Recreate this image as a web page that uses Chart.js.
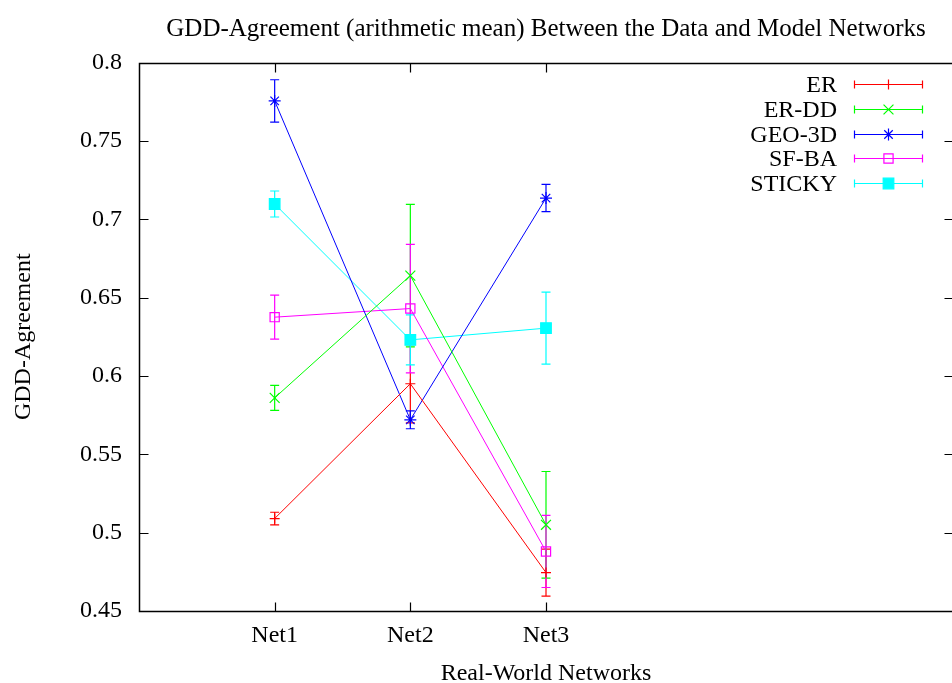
<!DOCTYPE html>
<html>
<head>
<meta charset="utf-8">
<script src="https://cdn.jsdelivr.net/npm/chart.js@4.4.0/dist/chart.umd.min.js"></script>
<style>
  html, body { margin: 0; padding: 0; background: #ffffff; overflow: hidden; }
  canvas { display: block; }
</style>
</head>
<body>
<canvas id="c" width="952" height="683"></canvas>
<script>
// ---- data ----
const categories = ['Net1', 'Net2', 'Net3'];
const categoryPositions = [1, 2, 3];
const yTickValues = [0.45, 0.5, 0.55, 0.6, 0.65, 0.7, 0.75, 0.8];

const seriesNames = ['ER', 'ER-DD', 'GEO-3D', 'SF-BA', 'STICKY'];
const erValues     = [0.509, 0.595, 0.4745];
const erErrors     = [0.004, 0.025, 0.015];
const erddValues   = [0.586, 0.664, 0.505];
const erddErrors   = [0.008, 0.0455, 0.034];
const geoValues    = [0.7755, 0.572, 0.7135];
const geoErrors    = [0.0135, 0.0057, 0.0087];
const sfbaValues   = [0.6375, 0.643, 0.488];
const sfbaErrors   = [0.014, 0.041, 0.023];
const stickyValues = [0.7097, 0.623, 0.6305];
const stickyErrors = [0.0083, 0.016, 0.023];

const seriesColors = ['#ff0000', '#00ff00', '#0000ff', '#ff00ff', '#00ffff'];

const FONT = 'Liberation Serif';

function makeDataset(name, values, errors, color, style, radius, fill) {
  return {
    label: name,
    data: categoryPositions.map((x, i) => ({ x: x, y: values[i] })),
    errors: errors,
    borderColor: color,
    backgroundColor: fill ? color : 'rgba(0,0,0,0)',
    borderWidth: 1,
    pointStyle: style,
    pointRadius: radius,
    pointBorderWidth: 1.2,
    pointBackgroundColor: fill ? color : 'rgba(0,0,0,0)',
    pointBorderColor: color,
    tension: 0,
    fill: false
  };
}

const datasets = [
  makeDataset(seriesNames[0], erValues, erErrors, seriesColors[0], 'cross', 5, false),
  makeDataset(seriesNames[1], erddValues, erddErrors, seriesColors[1], 'crossRot', 7, false),
  makeDataset(seriesNames[2], geoValues, geoErrors, seriesColors[2], 'star', 6, false),
  makeDataset(seriesNames[3], sfbaValues, sfbaErrors, seriesColors[3], 'rect', 6.5, false),
  makeDataset(seriesNames[4], stickyValues, stickyErrors, seriesColors[4], 'rect', 7.5, true)
];

// plot frame spans to the right canvas edge (as in the reference)
const areaPlugin = {
  id: 'area',
  afterLayout(chart) {
    const a = chart.chartArea;
    a.right = chart.width + 1;
    a.width = a.right - a.left;
    const xs = chart.scales.x;
    xs.right = a.right;
    xs.width = a.width;
    xs.configure();
    if (chart.titleBlock) {
      chart.titleBlock.left = a.left;
      chart.titleBlock.right = a.right;
      chart.titleBlock.width = a.width;
    }
  }
};

// error bars
const errorBarPlugin = {
  id: 'errorBars',
  beforeDatasetsDraw(chart) {
    const ctx = chart.ctx;
    const xs = chart.scales.x, ys = chart.scales.y;
    ctx.save();
    chart.data.datasets.forEach((ds) => {
      ctx.strokeStyle = ds.borderColor;
      ctx.lineWidth = 1.2;
      ds.data.forEach((p, i) => {
        const e = ds.errors[i];
        const px = xs.getPixelForValue(p.x);
        const yTop = ys.getPixelForValue(p.y + e);
        const yBot = ys.getPixelForValue(p.y - e);
        ctx.beginPath();
        ctx.moveTo(px, yTop); ctx.lineTo(px, yBot);
        ctx.moveTo(px - 4.5, yTop); ctx.lineTo(px + 4.5, yTop);
        ctx.moveTo(px - 4.5, yBot); ctx.lineTo(px + 4.5, yBot);
        ctx.stroke();
      });
    });
    ctx.restore();
  }
};

// gnuplot-like frame with inward ticks
const framePlugin = {
  id: 'frame',
  beforeDatasetsDraw(chart) {
    const ctx = chart.ctx;
    const a = chart.chartArea;
    const xs = chart.scales.x, ys = chart.scales.y;
    const L = Math.round(a.left) + 0.5, R = Math.round(a.right) + 0.5;
    const T = Math.round(a.top) + 0.5, B = Math.round(a.bottom) + 0.5;
    ctx.save();
    ctx.strokeStyle = '#000000';
    ctx.lineWidth = 1.5;
    ctx.beginPath();
    ctx.rect(L, T, R - L, B - T);
    ctx.stroke();
    ctx.lineWidth = 1.2;
    ctx.beginPath();
    const tl = 9;
    ys.ticks.forEach(t => {
      const y = Math.round(ys.getPixelForValue(t.value)) + 0.5;
      ctx.moveTo(L, y); ctx.lineTo(L + tl, y);
      ctx.moveTo(R, y); ctx.lineTo(R - tl, y);
    });
    xs.ticks.forEach(t => {
      const x = Math.round(xs.getPixelForValue(t.value)) + 0.5;
      ctx.moveTo(x, B); ctx.lineTo(x, B - tl);
      ctx.moveTo(x, T); ctx.lineTo(x, T + tl);
    });
    ctx.stroke();
    ctx.restore();
  }
};

// gnuplot-like legend (text right-aligned, sample with error bar)
const legendPlugin = {
  id: 'gpLegend',
  afterDatasetsDraw(chart) {
    const ctx = chart.ctx;
    const textRight = 837;
    const sx0 = 854, sx1 = 922;
    const y0 = 84, dy = 24.8;
    ctx.save();
    ctx.font = '24px "' + FONT + '"';
    ctx.textAlign = 'right';
    ctx.textBaseline = 'middle';
    chart.data.datasets.forEach((ds, i) => {
      const y = Math.round(y0 + i * dy) + 0.5;
      ctx.fillStyle = '#000000';
      ctx.fillText(ds.label, textRight, y + 1);
      ctx.strokeStyle = ds.borderColor;
      ctx.lineWidth = 1.2;
      ctx.beginPath();
      ctx.moveTo(sx0, y); ctx.lineTo(sx1, y);
      ctx.moveTo(sx0 + 0.5, y - 4); ctx.lineTo(sx0 + 0.5, y + 4);
      ctx.moveTo(sx1 + 0.5, y - 4); ctx.lineTo(sx1 + 0.5, y + 4);
      ctx.stroke();
      ctx.fillStyle = ds.pointBackgroundColor;
      ctx.strokeStyle = ds.pointBorderColor;
      Chart.helpers.drawPoint(ctx, {
        pointStyle: ds.pointStyle,
        radius: ds.pointRadius,
        borderWidth: 1.2,
        rotation: 0
      }, (sx0 + sx1) / 2 + 0.5, y);
    });
    ctx.restore();
  }
};

Chart.defaults.font.family = FONT;
Chart.defaults.color = '#000000';

new Chart(document.getElementById('c'), {
  type: 'line',
  data: { datasets: datasets },
  plugins: [areaPlugin, framePlugin, errorBarPlugin, legendPlugin],
  options: {
    responsive: false,
    animation: false,
    devicePixelRatio: 1,
    layout: { padding: { left: 0, right: 0, top: 0, bottom: 0 } },
    plugins: {
      legend: { display: false },
      tooltip: { enabled: false },
      title: {
        display: true,
        text: 'GDD-Agreement (arithmetic mean) Between the Data and Model Networks',
        fullSize: false,
        font: { size: 25, weight: 'normal', family: FONT, lineHeight: 1.2 },
        color: '#000000',
        padding: { top: 14, bottom: 18.5 }
      }
    },
    scales: {
      x: {
        type: 'linear',
        min: 0,
        max: 6,
        afterBuildTicks(scale) {
          scale.ticks = categoryPositions.map(v => ({ value: v }));
        },
        afterFit(scale) {
          scale.height = 72;
          scale.paddingLeft = 0;
          scale.paddingRight = 0;
        },
        grid: { display: false, drawTicks: false },
        border: { display: false },
        ticks: {
          padding: 10,
          maxRotation: 0,
          autoSkip: false,
          font: { size: 24, family: FONT, lineHeight: 1.2 },
          callback: (v) => categories[categoryPositions.indexOf(v)]
        },
        title: {
          display: true,
          text: 'Real-World Networks',
          font: { size: 24, family: FONT, lineHeight: 0.75 },
          padding: { top: 0, bottom: 0 }
        }
      },
      y: {
        type: 'linear',
        min: 0.45,
        max: 0.8,
        afterBuildTicks(scale) {
          scale.ticks = yTickValues.map(v => ({ value: v }));
        },
        afterFit(scale) {
          scale.width = 139;
          scale.paddingTop = 0;
          scale.paddingBottom = 0;
        },
        grid: { display: false, drawTicks: false },
        border: { display: false },
        ticks: {
          padding: 17,
          autoSkip: false,
          font: { size: 24, family: FONT, lineHeight: 1.2 },
          callback: (v) => String(Number(v.toFixed(2)))
        },
        title: {
          display: true,
          text: 'GDD-Agreement',
          font: { size: 24, family: FONT, lineHeight: 1 },
          padding: { top: 12, bottom: 0 }
        }
      }
    }
  }
});
</script>
</body>
</html>
